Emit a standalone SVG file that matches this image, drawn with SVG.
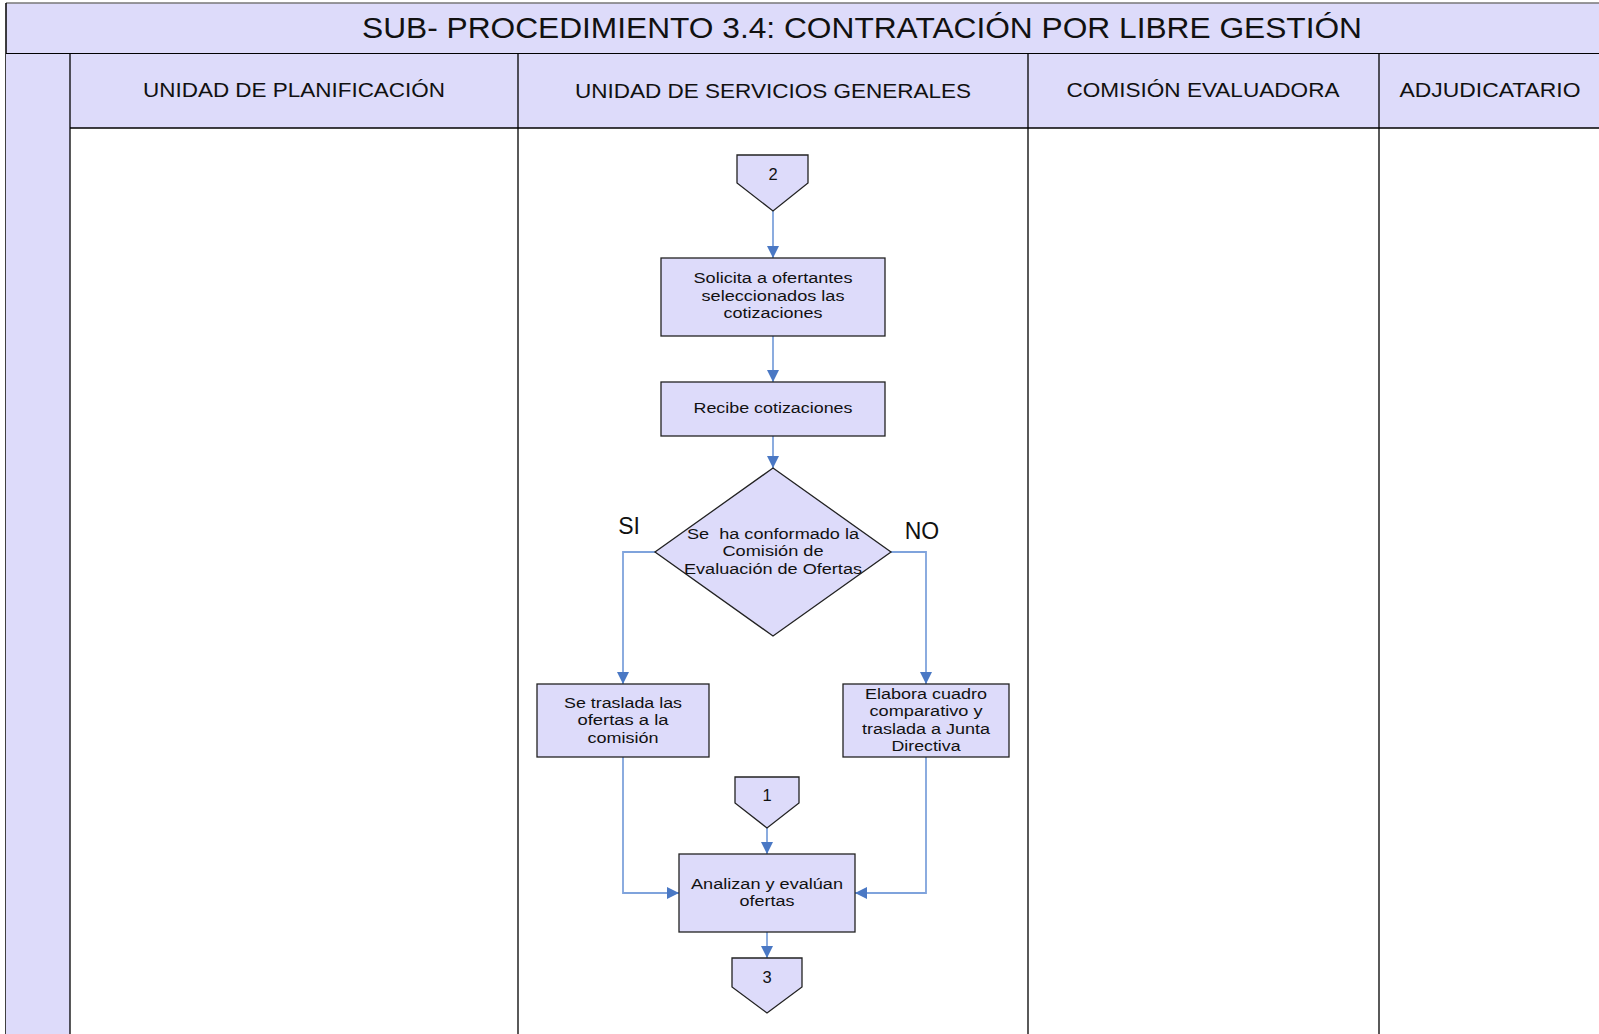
<svg xmlns="http://www.w3.org/2000/svg" width="1599" height="1034" viewBox="0 0 1599 1034">
<defs>
<style>
.lav{fill:#dddbfa}
.ln{stroke:#000;stroke-width:1.3;fill:none}
.node{fill:#dddbfa;stroke:#222;stroke-width:1.3}
.t{font-family:"Liberation Sans",Arial,sans-serif;font-size:15.5px;fill:#111;text-anchor:middle}
.d{font-family:"Liberation Sans",Arial,sans-serif;font-size:16.5px;fill:#111;text-anchor:middle}
.h{font-family:"Liberation Sans",Arial,sans-serif;font-size:19.5px;fill:#111;text-anchor:middle}
.lbl{font-family:"Liberation Sans",Arial,sans-serif;font-size:23px;fill:#111;text-anchor:middle}
.c{stroke:#7fa3dc;stroke-width:1.8;fill:none}
</style>
<marker id="arr" viewBox="0 0 10 10" refX="10" refY="5" markerWidth="12" markerHeight="12" markerUnits="userSpaceOnUse" orient="auto">
<path d="M0,0 L10,5 L0,10 z" fill="#4a78c4"/>
</marker>
</defs>
<rect x="0" y="0" width="1599" height="1034" fill="#fff"/>
<g id="frame">
<rect class="lav" x="6" y="3" width="1593" height="51"/>
<line x1="6" y1="3" x2="1599" y2="3" stroke="#777" stroke-width="1.5"/>
<line x1="6" y1="3" x2="6" y2="1034" stroke="#000" stroke-width="1.5"/>
<line x1="6" y1="54" x2="1599" y2="54" stroke="#000" stroke-width="2"/>
<text x="862" y="38" class="lbl" style="font-size:29px" textLength="1000" lengthAdjust="spacingAndGlyphs">SUB- PROCEDIMIENTO 3.4: CONTRATACIÓN POR LIBRE GESTIÓN</text>
<rect class="lav" x="6" y="54" width="64" height="980"/>
<rect class="lav" x="70" y="54" width="1529" height="74"/>
<line class="ln" x1="70" y1="54" x2="70" y2="1034"/>
<line class="ln" x1="70" y1="128" x2="1599" y2="128"/>
<line class="ln" x1="518" y1="54" x2="518" y2="1034"/>
<line class="ln" x1="1028" y1="54" x2="1028" y2="1034"/>
<line class="ln" x1="1379" y1="54" x2="1379" y2="1034"/>
</g>
<g id="lane-headers">
<text class="h" x="294" y="97" textLength="302" lengthAdjust="spacingAndGlyphs">UNIDAD DE PLANIFICACIÓN</text>
<text class="h" x="773" y="98" textLength="396" lengthAdjust="spacingAndGlyphs">UNIDAD DE SERVICIOS GENERALES</text>
<text class="h" x="1203" y="97" textLength="273" lengthAdjust="spacingAndGlyphs">COMISIÓN EVALUADORA</text>
<text class="h" x="1490" y="97" textLength="181" lengthAdjust="spacingAndGlyphs">ADJUDICATARIO</text>
</g>
<g id="connectors">
<line class="c" x1="773" y1="211" x2="773" y2="258" marker-end="url(#arr)"/>
<line class="c" x1="773" y1="336" x2="773" y2="382" marker-end="url(#arr)"/>
<line class="c" x1="773" y1="436" x2="773" y2="468" marker-end="url(#arr)"/>
<polyline class="c" points="655,552 623,552 623,684" marker-end="url(#arr)"/>
<polyline class="c" points="891,552 926,552 926,684" marker-end="url(#arr)"/>
<line class="c" x1="767" y1="828" x2="767" y2="854" marker-end="url(#arr)"/>
<polyline class="c" points="623,757 623,893 679,893" marker-end="url(#arr)"/>
<polyline class="c" points="926,757 926,893 855,893" marker-end="url(#arr)"/>
<line class="c" x1="767" y1="932" x2="767" y2="958" marker-end="url(#arr)"/>
</g>
<g id="off2">
<polygon class="node" points="737,155 808,155 808,183 773,211 737,183"/>
<text class="d" x="773" y="180">2</text>
</g>
<g id="solicita">
<rect class="node" x="661" y="258" width="224" height="78"/>
<text class="t" x="773" y="283" textLength="159" lengthAdjust="spacingAndGlyphs">Solicita a ofertantes</text>
<text class="t" x="773" y="301" textLength="143" lengthAdjust="spacingAndGlyphs">seleccionados las</text>
<text class="t" x="773" y="318" textLength="99" lengthAdjust="spacingAndGlyphs">cotizaciones</text>
</g>
<g id="recibe">
<rect class="node" x="661" y="382" width="224" height="54"/>
<text class="t" x="773" y="413" textLength="159" lengthAdjust="spacingAndGlyphs">Recibe cotizaciones</text>
</g>
<g id="decision">
<polygon class="node" points="773,468 891,552 773,636 655,552"/>
<text class="t" x="773" y="539" xml:space="preserve" textLength="172" lengthAdjust="spacingAndGlyphs">Se  ha conformado la</text>
<text class="t" x="773" y="556" textLength="101" lengthAdjust="spacingAndGlyphs">Comisión de</text>
<text class="t" x="773" y="574" textLength="178" lengthAdjust="spacingAndGlyphs">Evaluación de Ofertas</text>
<text class="lbl" x="629" y="534">SI</text>
<text class="lbl" x="922" y="539">NO</text>
</g>
<g id="traslada">
<rect class="node" x="537" y="684" width="172" height="73"/>
<text class="t" x="623" y="708" textLength="118" lengthAdjust="spacingAndGlyphs">Se traslada las</text>
<text class="t" x="623" y="725" textLength="91" lengthAdjust="spacingAndGlyphs">ofertas a la</text>
<text class="t" x="623" y="743" textLength="71" lengthAdjust="spacingAndGlyphs">comisión</text>
</g>
<g id="elabora">
<rect class="node" x="843" y="684" width="166" height="73"/>
<text class="t" x="926" y="699" textLength="122" lengthAdjust="spacingAndGlyphs">Elabora cuadro</text>
<text class="t" x="926" y="716" textLength="113" lengthAdjust="spacingAndGlyphs">comparativo y</text>
<text class="t" x="926" y="734" textLength="128" lengthAdjust="spacingAndGlyphs">traslada a Junta</text>
<text class="t" x="926" y="751" textLength="69" lengthAdjust="spacingAndGlyphs">Directiva</text>
</g>
<g id="off1">
<polygon class="node" points="735,777 799,777 799,803 767,828 735,803"/>
<text class="d" x="767" y="801">1</text>
</g>
<g id="analizan">
<rect class="node" x="679" y="854" width="176" height="78"/>
<text class="t" x="767" y="889" textLength="152" lengthAdjust="spacingAndGlyphs">Analizan y evalúan</text>
<text class="t" x="767" y="906" textLength="55" lengthAdjust="spacingAndGlyphs">ofertas</text>
</g>
<g id="off3">
<polygon class="node" points="732,958 802,958 802,987 767,1013 732,987"/>
<text class="d" x="767" y="983">3</text>
</g>
</svg>
